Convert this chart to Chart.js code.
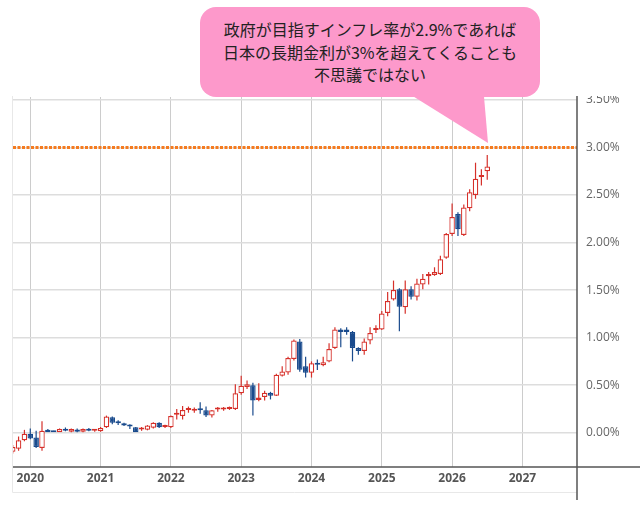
<!DOCTYPE html>
<html lang="ja">
<head>
<meta charset="utf-8">
<title>日本の長期金利</title>
<script src="https://cdn.jsdelivr.net/npm/chart.js@4.4.1/dist/chart.umd.min.js"></script>
<style>
  html, body { margin: 0; padding: 0; background: #fff; }
  #wrap { position: relative; width: 640px; height: 505px; overflow: hidden; }
  #chartBox { position: absolute; left: 0; top: 96px; width: 640px; height: 409px; }
  #tail {
    position: absolute; left: 0; top: 0; width: 640px; height: 505px;
    background: #fd99cb; pointer-events: none;
    clip-path: polygon(395px 85px, 483px 85px, 488px 143px);
  }
  #bubble {
    position: absolute; left: 200px; top: 7px; width: 340px; height: 90px;
    background: #fd99cb; border-radius: 16px;
    display: flex; align-items: center; justify-content: center; text-align: center;
    font-family: "Noto Sans CJK JP", sans-serif; font-size: 16px; line-height: 22.5px; color: #222;
  }
</style>
</head>
<body>
<div id="wrap">
  <div id="chartBox"><canvas id="yieldChart"></canvas></div>
  <div id="tail"></div>
  <div id="bubble"><div>政府が目指すインフレ率が2.9%であれば<br>日本の長期金利が3%を超えてくることも<br>不思議ではない</div></div>
</div>
<script>
// monthly candles (%)
const months = [
  '2019-10','2019-11','2019-12',
  '2020-01','2020-02','2020-03','2020-04','2020-05','2020-06','2020-07','2020-08','2020-09','2020-10','2020-11','2020-12',
  '2021-01','2021-02','2021-03','2021-04','2021-05','2021-06','2021-07','2021-08','2021-09','2021-10','2021-11','2021-12',
  '2022-01','2022-02','2022-03','2022-04','2022-05','2022-06','2022-07','2022-08','2022-09','2022-10','2022-11','2022-12',
  '2023-01','2023-02','2023-03','2023-04','2023-05','2023-06','2023-07','2023-08','2023-09','2023-10','2023-11','2023-12',
  '2024-01','2024-02','2024-03','2024-04','2024-05','2024-06','2024-07','2024-08','2024-09','2024-10','2024-11','2024-12',
  '2025-01','2025-02','2025-03','2025-04','2025-05','2025-06','2025-07','2025-08','2025-09','2025-10','2025-11','2025-12',
  '2026-01','2026-02','2026-03','2026-04','2026-05','2026-06','2026-07'
];
const openVals = [
  -0.20, -0.17, -0.08,
  -0.01, -0.05, -0.16, 0.03, 0.015, 0.005, 0.04, 0.01, 0.035, 0.01, 0.04, 0.02,
  0.015, 0.057, 0.163, 0.106, 0.10, 0.07, 0.057, 0.035, 0.03, 0.053, 0.106, 0.06,
  0.057, 0.19, 0.176, 0.24, 0.23, 0.245, 0.235, 0.18, 0.245, 0.245, 0.25, 0.25,
  0.415, 0.48, 0.50, 0.345, 0.375, 0.42, 0.39, 0.60, 0.634, 0.776, 0.96, 0.70,
  0.63, 0.735, 0.71, 0.75, 0.89, 1.085, 1.085, 1.06, 0.89, 0.86, 0.97, 1.08,
  1.085, 1.26, 1.40, 1.51, 1.32, 1.51, 1.43, 1.56, 1.645, 1.66, 1.67, 1.84,
  2.09, 2.30, 2.08, 2.36, 2.50, 2.69, 2.75
];
const highVals = [
  -0.13, -0.04, 0.03,
  0.045, 0.02, 0.12, 0.04, 0.02, 0.045, 0.055, 0.045, 0.045, 0.045, 0.05, 0.03,
  0.06, 0.18, 0.17, 0.13, 0.105, 0.09, 0.06, 0.06, 0.08, 0.11, 0.11, 0.085,
  0.18, 0.25, 0.28, 0.275, 0.265, 0.32, 0.275, 0.24, 0.27, 0.27, 0.275, 0.51,
  0.60, 0.55, 0.525, 0.52, 0.44, 0.43, 0.62, 0.70, 0.80, 0.98, 0.985, 0.80,
  0.75, 0.77, 0.80, 0.94, 1.11, 1.10, 1.11, 1.07, 0.90, 0.99, 1.11, 1.13,
  1.28, 1.48, 1.60, 1.52, 1.60, 1.54, 1.62, 1.67, 1.69, 1.74, 1.86, 2.10,
  2.41, 2.32, 2.40, 2.56, 2.84, 2.77, 2.92
];
const lowVals = [
  -0.22, -0.19, -0.09,
  -0.07, -0.16, -0.19, 0.0, 0.0, 0.0, 0.015, 0.005, 0.005, 0.005, 0.015, 0.01,
  0.01, 0.05, 0.09, 0.08, 0.07, 0.04, 0.0, 0.02, 0.025, 0.045, 0.05, 0.05,
  0.05, 0.14, 0.14, 0.21, 0.21, 0.20, 0.165, 0.16, 0.22, 0.23, 0.24, 0.24,
  0.40, 0.46, 0.18, 0.33, 0.34, 0.35, 0.385, 0.59, 0.61, 0.76, 0.64, 0.58,
  0.58, 0.66, 0.70, 0.74, 0.88, 0.90, 1.03, 0.75, 0.82, 0.82, 0.93, 1.05,
  1.08, 1.226, 1.39, 1.067, 1.25, 1.40, 1.39, 1.51, 1.56, 1.65, 1.66, 1.83,
  2.07, 2.07, 2.07, 2.33, 2.46, 2.60, 2.66
];
const closeVals = [
  -0.15, -0.08, -0.01,
  -0.06, -0.15, 0.02, 0.005, 0.005, 0.04, 0.02, 0.04, 0.01, 0.04, 0.02, 0.025,
  0.05, 0.17, 0.106, 0.10, 0.075, 0.065, 0.005, 0.04, 0.075, 0.106, 0.057, 0.07,
  0.176, 0.195, 0.24, 0.245, 0.25, 0.235, 0.18, 0.235, 0.25, 0.25, 0.27, 0.415,
  0.495, 0.51, 0.34, 0.37, 0.42, 0.39, 0.61, 0.645, 0.786, 0.97, 0.663, 0.63,
  0.73, 0.715, 0.74, 0.88, 1.085, 1.06, 1.06, 0.89, 0.86, 0.96, 1.05, 1.10,
  1.255, 1.385, 1.50, 1.325, 1.51, 1.43, 1.57, 1.62, 1.67, 1.69, 1.825, 2.09,
  2.27, 2.14, 2.37, 2.53, 2.67, 2.70, 2.80
];
const yearLabels = [2020, 2021, 2022, 2023, 2024, 2025, 2026, 2027];
const rateTicks = [0, 0.5, 1.0, 1.5, 2.0, 2.5, 3.0, 3.5];
const targetRate = 3.0;

const RED = '#d6302a';
const BLUE = '#1a4b8d';

function monthPos(s) {
  const [y, m] = s.split('-').map(Number);
  return (y - 2020) * 12 + (m - 1);
}
const candleX = months.map(monthPos);
const isUp = i => closeVals[i] >= openVals[i];

const overlayLines = {
  id: 'overlayLines',
  afterDraw(chart) {
    const { ctx, chartArea: a, scales: { y } } = chart;
    ctx.save();
    // target line
    const ty = y.getPixelForValue(targetRate);
    ctx.strokeStyle = '#f47b20';
    ctx.lineWidth = 3;
    ctx.setLineDash([3, 1.5]);
    ctx.beginPath();
    ctx.moveTo(a.left, ty);
    ctx.lineTo(a.right, ty);
    ctx.stroke();
    ctx.setLineDash([]);
    // light frame
    ctx.strokeStyle = '#e8e8e8';
    ctx.lineWidth = 1;
    ctx.beginPath();
    ctx.moveTo(12.5, 0);
    ctx.lineTo(12.5, 396.5);
    ctx.lineTo(a.right, 396.5);
    ctx.stroke();
    // axis lines
    ctx.strokeStyle = '#555';
    ctx.lineWidth = 1.5;
    ctx.beginPath();
    ctx.moveTo(a.left, a.bottom);
    ctx.lineTo(chart.width, a.bottom);
    ctx.moveTo(a.right, 0);
    ctx.lineTo(a.right, chart.height - 5);
    ctx.stroke();
    ctx.restore();
  }
};

function noPad(s) {
  s.paddingTop = 0;
  s.paddingBottom = 0;
  s.paddingLeft = 0;
  s.paddingRight = 0;
}

Chart.defaults.font.family = '"Open Sans", sans-serif';

const ctx = document.getElementById('yieldChart').getContext('2d');
const yieldChart = new Chart(ctx, {
  type: 'bar',
  data: {
    datasets: [{
      label: 'body',
      data: candleX.map((x, i) => ({ x: x, y: [openVals[i], closeVals[i]] })),
      grouped: false,
      barThickness: 5.5,
      borderWidth: 1.25,
      borderSkipped: false,
      minBarLength: 2,
      inflateAmount: 0,
      backgroundColor: c => isUp(c.dataIndex) ? '#ffffff' : BLUE,
      borderColor: c => isUp(c.dataIndex) ? RED : BLUE,
      order: 1
    }, {
      label: 'wick',
      data: candleX.map((x, i) => ({ x: x, y: [lowVals[i], highVals[i]] })),
      grouped: false,
      barThickness: 1.2,
      borderWidth: 0,
      inflateAmount: 0,
      backgroundColor: c => isUp(c.dataIndex) ? RED : BLUE,
      order: 2
    }]
  },
  options: {
    responsive: true,
    maintainAspectRatio: false,
    animation: false,
    layout: { padding: { left: 13, top: 1, right: 0, bottom: 0 } },
    plugins: { legend: { display: false }, tooltip: { enabled: false } },
    scales: {
      x: {
        type: 'linear',
        offset: false,
        min: -2.95,
        max: 93.32,
        afterBuildTicks: s => { s.ticks = yearLabels.map(yr => ({ value: (yr - 2020) * 12 })); },
        afterFit: s => { s.height = 38; noPad(s); },
        grid: { color: '#cccccc', lineWidth: 1, drawTicks: false, offset: false },
        border: { display: false },
        ticks: {
          autoSkip: false,
          maxRotation: 0,
          padding: 4,
          color: '#555',
          font: { size: 12, weight: 'bold' },
          callback: (v, i) => String(yearLabels[i])
        }
      },
      y: {
        type: 'linear',
        position: 'right',
        min: -0.3607,
        max: 3.531,
        afterBuildTicks: s => { s.ticks = rateTicks.map(v => ({ value: v })); },
        afterFit: s => { s.width = 63; noPad(s); },
        grid: { color: '#dddddd', lineWidth: 1.5, drawTicks: false },
        border: { display: false },
        ticks: {
          padding: 9,
          color: '#666',
          font: { size: 12 },
          callback: v => v.toFixed(2) + '%'
        }
      }
    }
  },
  plugins: [overlayLines]
});
</script>
</body>
</html>
